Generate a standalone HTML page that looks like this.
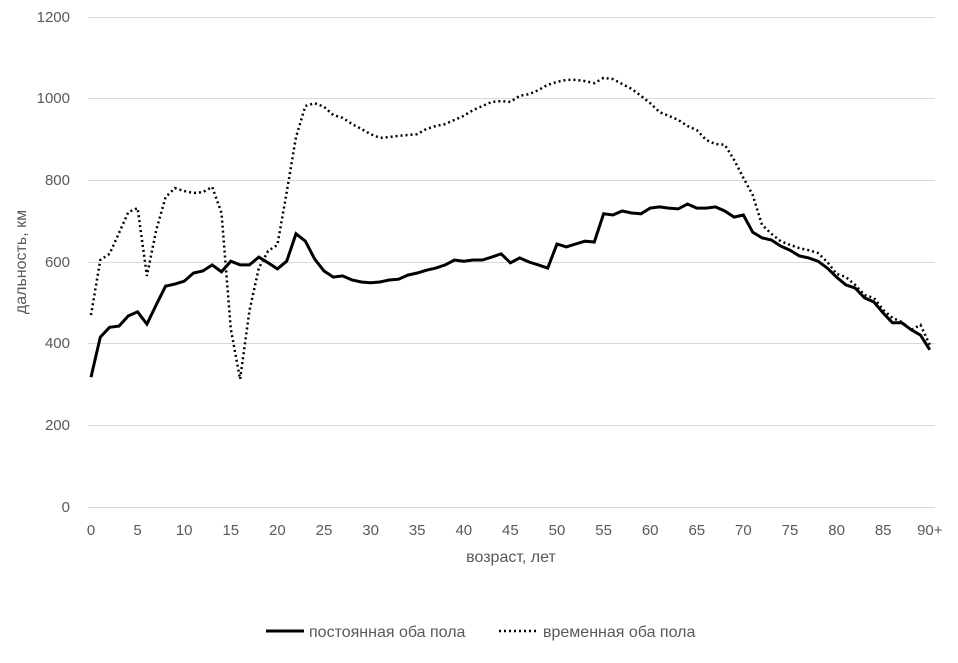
<!DOCTYPE html>
<html><head><meta charset="utf-8"><style>
body{margin:0;background:#fff}
text{font-family:"Liberation Sans",sans-serif;fill:#595959;font-size:15px}
.b{font-size:16px}
</style></head><body>
<svg id="s" width="958" height="658" xmlns="http://www.w3.org/2000/svg">
<g stroke="#d9d9d9" stroke-width="1">
<line x1="88" x2="935" y1="507.5" y2="507.5"/><line x1="88" x2="935" y1="425.5" y2="425.5"/>
<line x1="88" x2="935" y1="343.5" y2="343.5"/><line x1="88" x2="935" y1="262.5" y2="262.5"/>
<line x1="88" x2="935" y1="180.5" y2="180.5"/><line x1="88" x2="935" y1="98.5" y2="98.5"/>
<line x1="88" x2="935" y1="17.5" y2="17.5"/>
</g>
<g text-anchor="end">
<text x="70" y="512">0</text><text x="70" y="430">200</text><text x="70" y="348">400</text>
<text x="70" y="267">600</text><text x="70" y="185">800</text><text x="70" y="103">1000</text><text x="70" y="22">1200</text>
</g>
<g id="xt" text-anchor="middle"></g>
<text class="b" x="511" y="562" text-anchor="middle">возраст, лет</text>
<text class="b" transform="translate(26,262) rotate(-90)" text-anchor="middle">дальность, км</text>
<polyline id="p2" fill="none" stroke="#000" stroke-width="2.5" stroke-dasharray="2,3"/>
<polyline id="p1" fill="none" stroke="#000" stroke-width="3"/>
<line x1="266" x2="304" y1="631" y2="631" stroke="#000" stroke-width="3"/>
<text class="b" x="309" y="637">постоянная оба пола</text>
<line x1="499" x2="537" y1="631" y2="631" stroke="#000" stroke-width="2.5" stroke-dasharray="2,3"/>
<text class="b" x="543" y="637">временная оба пола</text>
</svg>
<script>
var a=[318,416,440,443,468,478,448,495,541,546,553,573,578,593,576,602,593,593,612,598,583,602,669,651,607,578,563,566,556,551,549,551,556,558,568,573,580,585,593,605,602,605,605,612,620,598,610,600,593,585,644,637,644,651,649,718,715,725,720,718,732,735,732,730,742,732,732,735,725,710,715,673,659,654,639,629,615,610,602,585,563,544,536,512,502,475,451,451,434,421,385];
var b=[470,605,620,671,722,732,566,678,759,781,774,769,771,784,720,436,313,480,585,627,642,771,906,982,989,980,960,953,938,926,913,904,906,909,911,913,926,933,938,948,958,972,982,992,994,992,1007,1011,1021,1034,1041,1046,1046,1043,1038,1051,1048,1036,1024,1007,989,967,958,948,933,923,899,889,887,850,806,764,691,669,651,642,634,629,622,600,571,563,544,519,512,483,463,453,434,446,397];
function X(i){return 91+i*9.32}function Y(v){return 507-v*0.40833}
function pts(d){return d.map(function(v,i){return X(i).toFixed(1)+","+Y(v).toFixed(1)}).join(" ")}
document.getElementById("p1").setAttribute("points",pts(a));
document.getElementById("p2").setAttribute("points",pts(b));
var g=document.getElementById("xt"),h="";
for(var i=0;i<=90;i+=5){h+='<text x="'+X(i)+'" y="535">'+(i==90?"90+":i)+'</text>';}
g.innerHTML=h;
</script>
</body></html>
